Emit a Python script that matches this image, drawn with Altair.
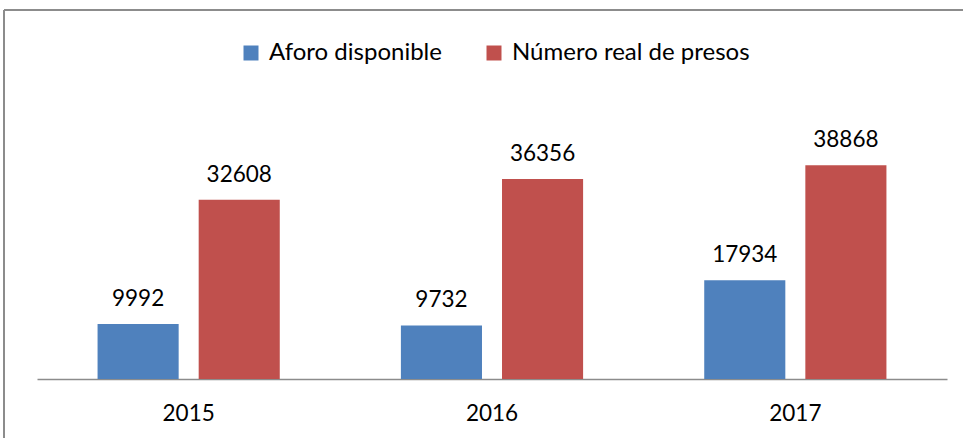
import altair as alt
import pandas as pd

years = ["2015", "2016", "2017"]
series = ["Aforo disponible", "Número real de presos"]
aforo = [9992, 9732, 17934]
presos = [32608, 36356, 38868]
colors = ["#4F81BD", "#C0504D"]

rows = []
for i, y in enumerate(years):
    rows.append({"year": y, "serie": series[0], "value": aforo[i]})
    rows.append({"year": y, "serie": series[1], "value": presos[i]})
df = pd.DataFrame(rows)

FONT = "Lato"

x = alt.X("year:N", sort=years, title=None,
          scale=alt.Scale(paddingInner=0, paddingOuter=0),
          axis=alt.Axis(labelAngle=0, ticks=False, domainColor="#8c8c8c",
                        domainWidth=1.5, labelFontSize=22.5, labelFont=FONT,
                        labelColor="#000000", labelPadding=23, grid=False))
xo = alt.XOffset("serie:N", sort=series,
                 scale=alt.Scale(paddingInner=0.198, paddingOuter=0.599))
y = alt.Y("value:Q", scale=alt.Scale(domain=[0, 50000]), axis=None)

bars = alt.Chart(df).mark_bar().encode(
    x=x, xOffset=xo, y=y,
    color=alt.Color("serie:N", sort=series,
                    scale=alt.Scale(domain=series, range=colors),
                    legend=alt.Legend(title=None, orient="none", direction="horizontal",
                                      legendX=202, legendY=-63, symbolType="square",
                                      symbolSize=225, symbolStrokeWidth=0,
                                      labelFontSize=24, labelFont=FONT,
                                      labelColor="#000000", labelOffset=6,
                                      columnPadding=40, padding=0,
                                      labelLimit=400))
)

labels = alt.Chart(df).mark_text(baseline="alphabetic", dy=-18, fontSize=22.5,
                                  font=FONT, color="#000000").encode(
    x=x, xOffset=xo, y=y, text=alt.Text("value:Q", format="d")
)

frame_left = alt.Chart(df).mark_rule(color="#8c8c8c", strokeWidth=1.5, clip=False).encode(
    x=alt.value(-33), y=alt.value(-94), y2=alt.value(400)
)
frame_top = alt.Chart(df).mark_rule(color="#8c8c8c", strokeWidth=1.5, clip=False).encode(
    x=alt.value(-33), x2=alt.value(1000), y=alt.value(-94)
)

chart = alt.layer(bars, labels, frame_left, frame_top).properties(
    width=910, height=275,
    autosize=alt.AutoSizeParams(type="none"),
    padding={"left": 37, "top": 104, "right": 16, "bottom": 59},
    background="#ffffff",
).configure_view(stroke=None, strokeWidth=0)

chart.save("out.html", embed_options={"renderer": "svg", "actions": False})
